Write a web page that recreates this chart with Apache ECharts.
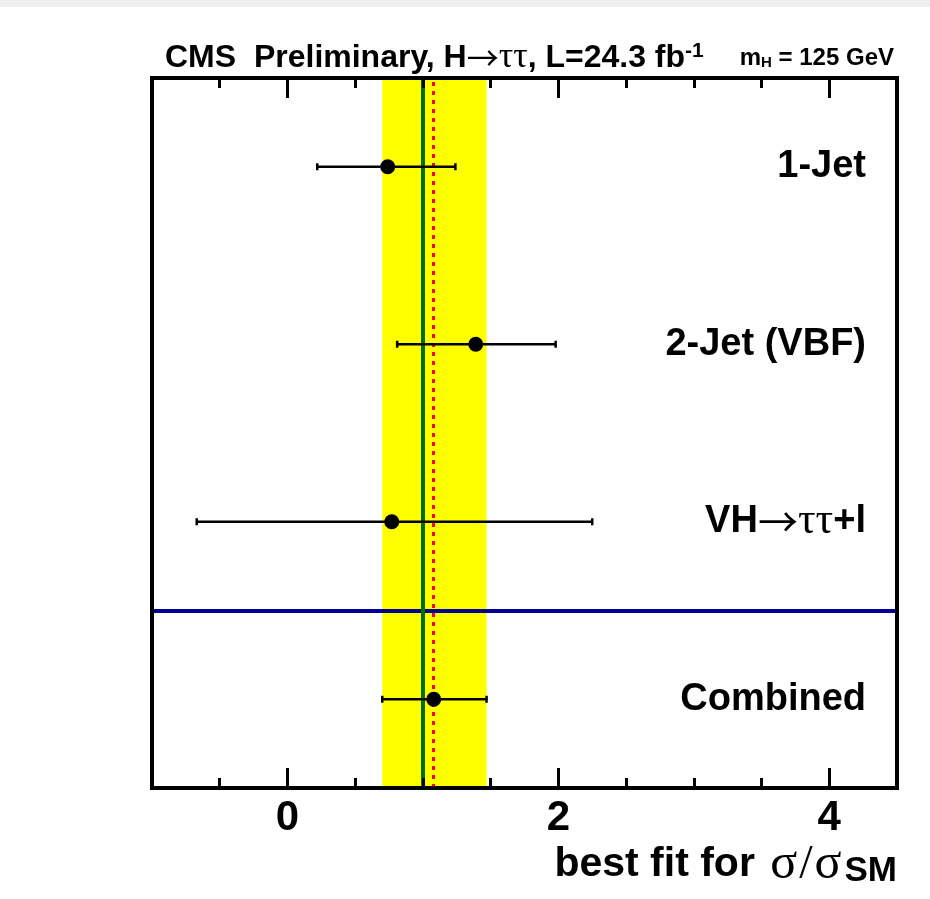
<!DOCTYPE html>
<html>
<head>
<meta charset="utf-8">
<script src="https://cdn.jsdelivr.net/npm/echarts@6/dist/echarts.min.js"></script>
<style>
  html, body { margin: 0; padding: 0; background: #ffffff; }
  #chart { width: 930px; height: 899px; }
</style>
</head>
<body>
<div id="chart"></div>
<script>
// Best-fit signal strength per event category (sigma / sigma_SM)
const categories = ['1-Jet', '2-Jet (VBF)', 'VH→ττ+l', 'Combined'];
const rowPos     = [3.5, 2.5, 1.5, 0.5];
const bestFit    = [0.74, 1.39, 0.77, 1.08];
const errLow     = [0.22, 0.81, -0.67, 0.70];
const errHigh    = [1.24, 1.98, 2.25, 1.47];
const smValue    = 1.0;        // Standard Model expectation
const separatorY = 1.0;        // splits the combined result from the categories
const xRange     = [-1, 4.5];
const yRange     = [0, 4];
const majorTicks = [0, 2, 4];
const minorTicks = [-0.5, 0.5, 1, 1.5, 2.5, 3, 3.5];

const COMB = categories.length - 1;
const SANS = '"Liberation Sans", Arial, Helvetica, sans-serif';
const SERIF = '"Liberation Serif", "DejaVu Serif", serif';
const ARROW = '"Noto Sans CJK SC", "DejaVu Sans", sans-serif';

const chart = echarts.init(document.getElementById('chart'), null, { renderer: 'canvas' });

function xAxisDef(position, ticks, len, showLine, showLabel) {
  return {
    type: 'value', min: xRange[0], max: xRange[1], position: position, z: 10,
    axisLine: { show: showLine, onZero: false, lineStyle: { color: '#000', width: 4, cap: 'square' } },
    axisTick: { show: true, inside: true, length: len, customValues: ticks,
                lineStyle: { color: '#000', width: 3 } },
    axisLabel: { show: showLabel, customValues: majorTicks, margin: 9, color: '#000',
                 fontFamily: SANS, fontWeight: 'bold', fontSize: 42 },
    splitLine: { show: false }
  };
}
function yAxisDef(position) {
  return {
    type: 'value', min: yRange[0], max: yRange[1], position: position, z: 10,
    axisLine: { show: true, onZero: false, lineStyle: { color: '#000', width: 4, cap: 'square' } },
    axisTick: { show: false }, axisLabel: { show: false }, splitLine: { show: false }
  };
}

const option = {
  animation: false,
  backgroundColor: '#ffffff',
  grid: { left: 152, right: 33, top: 78, bottom: 111, containLabel: false },
  xAxis: [
    xAxisDef('bottom', majorTicks, 20, true, true),
    xAxisDef('bottom', minorTicks, 10, false, false),
    xAxisDef('top', majorTicks, 20, true, false),
    xAxisDef('top', minorTicks, 10, false, false)
  ],
  yAxis: [yAxisDef('left'), yAxisDef('right')],
  graphic: [
    { type: 'rect', left: 0, top: 0, shape: { width: 930, height: 7 }, style: { fill: '#eeeeee' }, silent: true },
    {
      type: 'text', left: 165, top: 40,
      style: {
        text: '{b|CMS  Preliminary, H}{a|→}{s|ττ}{b|, L=24.3 fb}{sup|-1}',
        rich: {
          b: { fontFamily: SANS, fontWeight: 'bold', fontSize: 32, lineHeight: 34, fill: '#000' },
          a: { fontFamily: ARROW, fontWeight: 'normal', fontSize: 32, lineHeight: 34, fill: '#000' },
          s: { fontFamily: SERIF, fontWeight: 'normal', fontSize: 36, lineHeight: 34, fill: '#000' },
          sup: { fontFamily: SANS, fontWeight: 'bold', fontSize: 21, lineHeight: 16, verticalAlign: 'top', fill: '#000' }
        }
      }
    },
    {
      type: 'text', right: 36, top: 46,
      style: {
        text: '{m|m}{sub|H}{m| = 125 GeV}',
        rich: {
          m: { fontFamily: SANS, fontWeight: 'bold', fontSize: 24, lineHeight: 24, fill: '#000' },
          sub: { fontFamily: SANS, fontWeight: 'bold', fontSize: 15, lineHeight: 8, verticalAlign: 'bottom', fill: '#000' }
        }
      }
    },
    {
      type: 'text', right: 33, top: 840,
      style: {
        text: '{b|best fit for }{s1|σ}{sl|/}{s|σ}{sub|SM}',
        rich: {
          b: { fontFamily: SANS, fontWeight: 'bold', fontSize: 41, lineHeight: 48, fill: '#000' },
          s1: { fontFamily: SERIF, fontWeight: 'normal', fontSize: 50, lineHeight: 48, padding: [0, 1, 0, 4], fill: '#000' },
          sl: { fontFamily: SERIF, fontWeight: 'normal', fontSize: 48, lineHeight: 48, padding: [0, 2, 0, 1], fill: '#000' },
          s: { fontFamily: SERIF, fontWeight: 'normal', fontSize: 50, lineHeight: 48, fill: '#000' },
          sub: { fontFamily: SANS, fontWeight: 'bold', fontSize: 35, lineHeight: 22, verticalAlign: 'bottom', padding: [0, 0, 0, 3], fill: '#000' }
        }
      }
    }
  ],
  series: [
    {
      // 1-sigma band of the combined fit
      name: 'band', type: 'custom', z: 1, silent: true,
      data: [[errLow[COMB], errHigh[COMB]]],
      encode: { x: [0, 1] },
      renderItem: function (params, api) {
        const cs = params.coordSys;
        const x0 = api.coord([api.value(0), yRange[0]])[0];
        const x1 = api.coord([api.value(1), yRange[0]])[0];
        return { type: 'rect', shape: { x: x0, y: cs.y, width: x1 - x0, height: cs.height },
                 style: { fill: '#ffff00' } };
      }
    },
    {
      name: 'reference lines', type: 'line', z: 3, data: [],
      markLine: {
        silent: true, symbol: ['none', 'none'], label: { show: false },
        data: [
          { yAxis: separatorY, lineStyle: { color: '#000099', width: 4, type: 'solid' } },
          { xAxis: smValue, lineStyle: { color: '#007000', width: 4, type: 'solid' } },
          { xAxis: bestFit[COMB], lineStyle: { color: '#ff0000', width: 3, type: [4, 5] } }
        ]
      }
    },
    {
      name: 'uncertainty', type: 'custom', z: 5, silent: true,
      data: rowPos.map((y, i) => [y, errLow[i], errHigh[i]]),
      encode: { x: [1, 2], y: 0 },
      renderItem: function (params, api) {
        const a = api.coord([api.value(1), api.value(0)]);
        const b = api.coord([api.value(2), api.value(0)]);
        const st = { stroke: '#000', lineWidth: 2.5 };
        return {
          type: 'group',
          children: [
            { type: 'line', shape: { x1: a[0], y1: a[1], x2: b[0], y2: b[1] }, style: st },
            { type: 'line', shape: { x1: a[0], y1: a[1] - 3.5, x2: a[0], y2: a[1] + 3.5 }, style: st },
            { type: 'line', shape: { x1: b[0], y1: b[1] - 3.5, x2: b[0], y2: b[1] + 3.5 }, style: st }
          ]
        };
      }
    },
    {
      name: 'best fit', type: 'scatter', z: 6, silent: true,
      symbol: 'circle', symbolSize: 15,
      itemStyle: { color: '#000', opacity: 1 },
      data: rowPos.map((y, i) => [bestFit[i], y])
    },
    {
      name: 'category labels', type: 'custom', z: 7, silent: true,
      data: rowPos.map((y, i) => [xRange[1], y, i]),
      encode: { x: 0, y: 1 },
      renderItem: function (params, api) {
        const p = api.coord([api.value(0), api.value(1)]);
        const name = categories[api.value(2)];
        let text = '{b|' + name + '}';
        if (name.indexOf('→') >= 0) {
          const head = name.split('→')[0];
          text = '{b|' + head + '}{a|→}{s|ττ}{b|+l}';
        }
        return {
          type: 'text',
          style: {
            text: text, x: p[0] - 31, y: p[1],
            align: 'right', verticalAlign: 'middle',
            textAlign: 'right', textVerticalAlign: 'middle',
            rich: {
              b: { fontFamily: SANS, fontWeight: 'bold', fontSize: 38, lineHeight: 44, fill: '#000' },
              a: { fontFamily: ARROW, fontWeight: 'normal', fontSize: 40, lineHeight: 44, fill: '#000' },
              s: { fontFamily: SERIF, fontWeight: 'normal', fontSize: 44, lineHeight: 44, fill: '#000' }
            }
          }
        };
      }
    }
  ]
};

chart.setOption(option);
</script>
</body>
</html>
